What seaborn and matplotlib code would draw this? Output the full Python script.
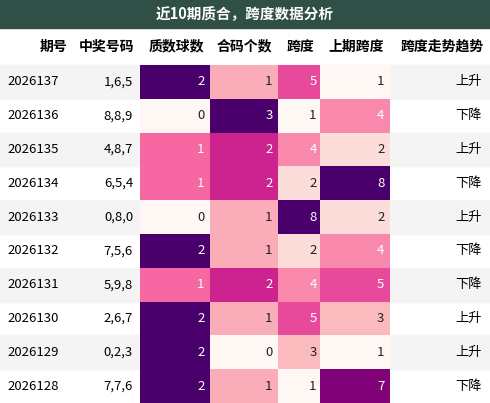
import matplotlib
matplotlib.use("Agg")
import matplotlib.pyplot as plt
import seaborn as sns
import numpy as np
from matplotlib.patches import Rectangle

plt.rcParams['font.family'] = ['Noto Sans CJK SC', 'DejaVu Sans']

title = "近10期质合，跨度数据分析"
headers = ["期号", "中奖号码", "质数球数", "合码个数", "跨度", "上期跨度", "跨度走势趋势"]
periods = ["2026137","2026136","2026135","2026134","2026133","2026132","2026131","2026130","2026129","2026128"]
numbers = ["1,6,5","8,8,9","4,8,7","6,5,4","0,8,0","7,5,6","5,9,8","2,6,7","0,2,3","7,7,6"]
prime_cnt = [2,0,1,1,0,2,1,2,2,2]
composite_cnt = [1,3,2,2,1,1,2,1,0,1]
span = [5,1,4,2,8,2,4,5,3,1]
prev_span = [1,4,2,8,2,4,5,3,1,7]
trend = ["上升","下降","上升","下降","上升","下降","下降","上升","上升","下降"]

W, H = 490, 403
fig = plt.figure(figsize=(W/100, H/100), dpi=100)
ax = fig.add_axes([0, 0, 1, 1])
ax.set_xlim(0, W); ax.set_ylim(H, 0); ax.axis('off')

cols = [0, 75, 140, 210, 278, 320, 390, 490]
title_h, head_bot = 28, 65
row_h = (H - head_bot) / len(periods)

ax.add_patch(Rectangle((0, 0), W, title_h, color='#2f4f47'))
ax.text(W/2, title_h/2, title, color='white', fontsize=10.5, fontweight='bold', ha='center', va='center')

for j, h in enumerate(headers):
    if j == 0:
        ax.text(cols[1]-8, (title_h+head_bot)/2, h, ha='right', va='center', fontsize=10, fontweight='bold')
    else:
        ax.text(cols[j+1]-6, (title_h+head_bot)/2, h, ha='right', va='center', fontsize=10, fontweight='bold')

for i in range(len(periods)):
    y0 = head_bot + i*row_h
    if i % 2 == 0:
        ax.add_patch(Rectangle((0, y0), W, row_h, color='#f4f4f4', zorder=0))
    yc = y0 + row_h/2
    ax.text(7, yc, periods[i], ha='left', va='center', fontsize=9.5)
    ax.text(cols[2]-7, yc, numbers[i], ha='right', va='center', fontsize=9.5)
    ax.text(cols[7]-8, yc, trend[i], ha='right', va='center', fontsize=9.5)

def heat_col(vals, x0, x1, vmin, vmax):
    hax = fig.add_axes([x0/W, 0, (x1-x0)/W, (H-head_bot)/H])
    arr = np.array(vals, dtype=float).reshape(-1, 1)
    sns.heatmap(arr, ax=hax, cmap='RdPu', vmin=vmin, vmax=vmax, cbar=False,
                xticklabels=False, yticklabels=False)
    hax.axis('off')
    for i, v in enumerate(vals):
        nv = (v - vmin) / (vmax - vmin)
        hax.text(0.92, i+0.5, str(v), ha='right', va='center', fontsize=9.5,
                 color='white' if nv >= 0.4 else '#222222')

heat_col(prime_cnt, cols[2], cols[3], 0, 2)
heat_col(composite_cnt, cols[3], cols[4], 0, 3)
heat_col(span, cols[4], cols[5], 1, 8)
heat_col(prev_span, cols[5], cols[6], 1, 8)

fig.savefig("out.png", dpi=100)
